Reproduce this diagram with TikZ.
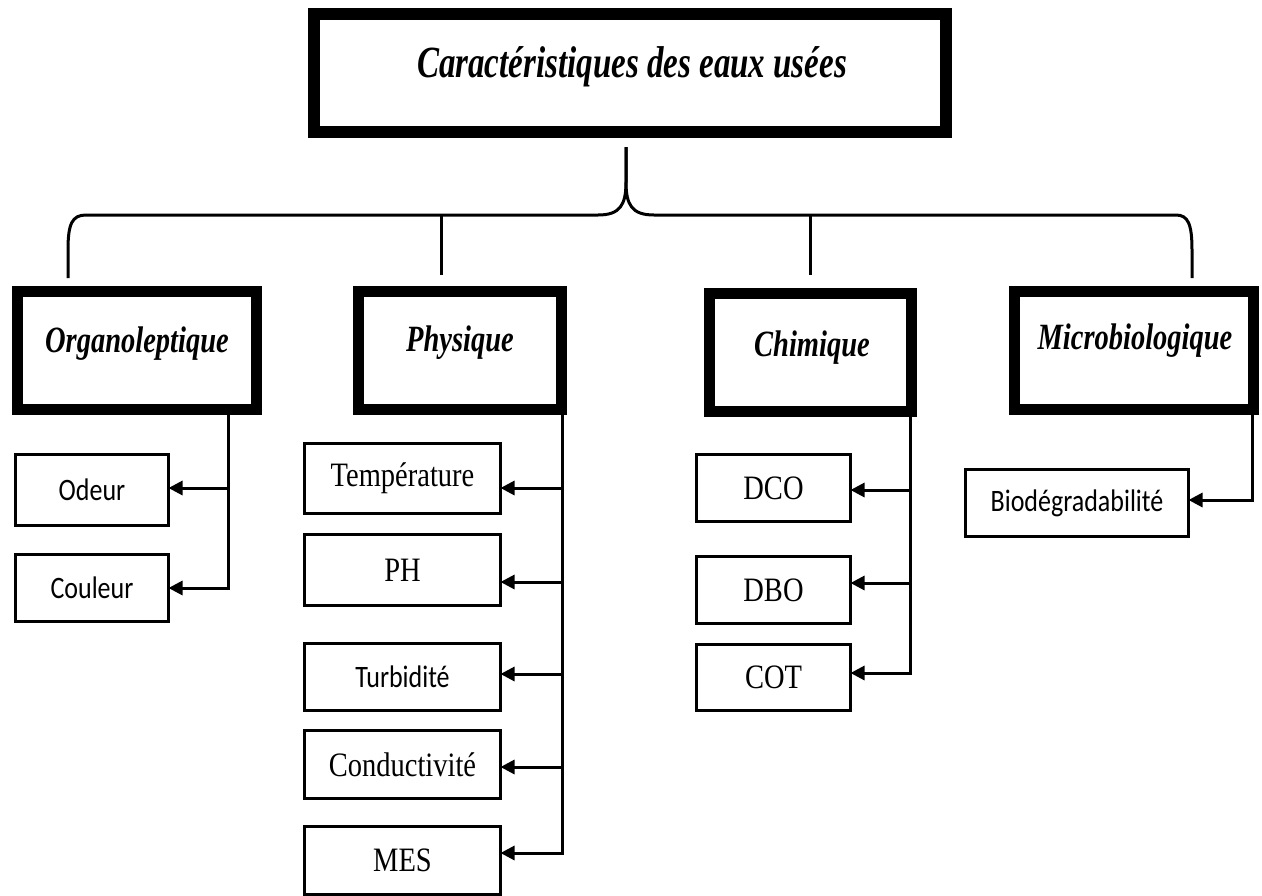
\documentclass[tikz,border=0pt]{standalone}
\usepackage{fontspec}
\usepackage{graphicx}
\setmainfont{Liberation Serif}
\newfontfamily\carl{Carlito}
\usetikzlibrary{arrows.meta,calc}
\newcommand\vst[2][1.2]{\scalebox{1}[#1]{#2}}
\tikzset{
  bigbox/.style={draw,line width=11pt,inner sep=0pt,outer sep=0pt,minimum height=118pt},
  subbox/.style={draw,line width=3pt,inner sep=0pt,outer sep=0pt},
  headtxt/.style={font=\fontsize{28.5}{30}\selectfont\bfseries\itshape,inner sep=0pt},
  sertxt/.style={font=\fontsize{28.5}{30}\selectfont,inner sep=0pt},
  sanstxt/.style={font=\fontsize{26}{28}\selectfont\carl,inner sep=0pt},
  conn/.style={line width=3pt},
  arr/.style={line width=3pt,-{Triangle[length=14pt,width=14pt]}},
}
\begin{document}
\begin{tikzpicture}[x=1pt,y=-1pt]
\useasboundingbox (0,0) rectangle (1262,895);
% title
\node[draw,line width=12pt,inner sep=0pt,minimum width=632pt,minimum height=118pt] (top) at (630,73) {};
\node[font=\fontsize{33}{35}\selectfont\bfseries\itshape,inner sep=0pt] (topt) at (632,67) {\vst[1.35]{Caractéristiques des eaux usées}};
% brace
\coordinate (tip) at (626,147);
\coordinate (bl) at (68,278);
\coordinate (br) at (1192,278);
\draw[conn] (bl) -- (68,250) .. controls (68,224) and (72,215) .. (86,215) -- (598,215)
  .. controls (620,215) and (626,205) .. (626,182) -- (tip);
\draw[conn] (tip) -- (626,182) .. controls (626,205) and (632,215) .. (654,215) -- (1176,215)
  .. controls (1188,215) and (1192,224) .. (1192,250) -- (br);
\coordinate (t1a) at (441,215); \coordinate (t1b) at (441,275);
\coordinate (t2a) at (810,215); \coordinate (t2b) at (810,275);
\draw[conn] (t1a) -- (t1b);
\draw[conn] (t2a) -- (t2b);
% headings
\node[bigbox,minimum width=239pt] (org) at (137,350.5) {};
\node[headtxt] (orgt) at (137,344) {\vst[1.3]{Organoleptique}};
\node[bigbox,minimum width=203pt] (phy) at (460,350.5) {};
\node[headtxt] (phyt) at (460,343) {\vst[1.3]{Physique}};
\node[bigbox,minimum width=202pt] (chi) at (810.5,352) {};
\node[headtxt] (chit) at (812,348) {\vst[1.3]{Chimique}};
\node[bigbox,minimum width=239pt] (mic) at (1134,350.5) {};
\node[headtxt] (mict) at (1135,341) {\vst[1.3]{Microbiologique}};
% organoleptique children
\node[subbox,minimum width=153pt,minimum height=71pt,sanstxt] (ode) at (92,490) {\vst{Odeur}};
\node[subbox,minimum width=153pt,minimum height=67pt,sanstxt] (cou) at (92,588) {\vst{Couleur}};
% physique children
\node[subbox,minimum width=196pt,minimum height=70pt,sertxt] (tem) at (402.5,478.5) {\vst{Température}};
\node[subbox,minimum width=196pt,minimum height=71pt,sertxt] (ph) at (402.5,570) {\vst{PH}};
\node[subbox,minimum width=196pt,minimum height=67pt,sanstxt] (tur) at (402.5,677) {\vst{Turbidité}};
\node[subbox,minimum width=196pt,minimum height=68pt,sertxt] (con) at (402.5,764.5) {\vst{Conductivité}};
\node[subbox,minimum width=196pt,minimum height=68pt,sertxt] (mes) at (402.5,860) {\vst{MES}};
% chimique children
\node[subbox,minimum width=154pt,minimum height=67pt,sertxt] (dco) at (773.5,488) {\vst{DCO}};
\node[subbox,minimum width=154pt,minimum height=67pt,sertxt] (dbo) at (773.5,590) {\vst{DBO}};
\node[subbox,minimum width=154pt,minimum height=66pt,sertxt] (cot) at (773.5,677.5) {\vst{COT}};
% microbiologique child
\node[subbox,minimum width=223pt,minimum height=67pt,sanstxt] (bio) at (1077,503) {\vst{Biodégradabilité}};
% connectors
\draw[arr] ([xshift=-28.5pt]org.south east) |- ([yshift=2pt]ode.east);
\draw[arr] ([xshift=-28.5pt]org.south east) |- (cou.east);
\draw[arr] ([xshift=0.5pt]phy.south east) |- ([yshift=-9.5pt]tem.east);
\draw[arr] ([xshift=0.5pt]phy.south east) |- ([yshift=-12pt]ph.east);
\draw[arr] ([xshift=0.5pt]phy.south east) |- ([yshift=3pt]tur.east);
\draw[arr] ([xshift=0.5pt]phy.south east) |- ([yshift=-2.5pt]con.east);
\draw[arr] ([xshift=0.5pt]phy.south east) |- ([yshift=7pt]mes.east);
\draw[arr] ([xshift=-1.5pt]chi.south east) |- ([yshift=-2pt]dco.east);
\draw[arr] ([xshift=-1.5pt]chi.south east) |- ([yshift=7pt]dbo.east);
\draw[arr] ([xshift=-1.5pt]chi.south east) |- ([yshift=4.5pt]cot.east);
\draw[arr] ([xshift=-1.5pt]mic.south east) |- ([yshift=3pt]bio.east);
\end{tikzpicture}
\end{document}
